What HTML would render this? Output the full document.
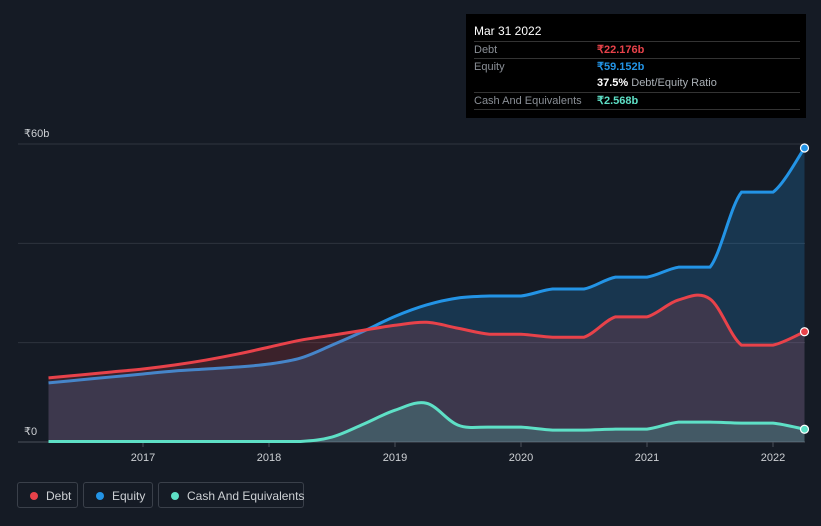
<!DOCTYPE html>
<html><head><meta charset="utf-8"><style>
body{margin:0;background:#151b25;font-family:"Liberation Sans",sans-serif;}
#wrap{position:relative;width:821px;height:526px;overflow:hidden;background:#151b25;}
svg{position:absolute;left:0;top:0;}
.tip{position:absolute;left:466px;top:14px;width:340px;height:104px;background:#000;color:#fff;font-size:11px;}
.tip .row{position:absolute;left:8px;width:326px;border-top:1px solid #333;height:17px;line-height:17px;}
.tip .l{color:#8a8f96;position:absolute;left:0;}
.tip .v{position:absolute;left:123px;font-weight:bold;}
.leg{position:absolute;top:482px;height:26px;border:1px solid #3a404a;border-radius:3px;color:#cdd0d4;font-size:12px;line-height:26px;box-sizing:border-box;padding-left:28px;white-space:nowrap;}
.leg i{position:absolute;left:12px;top:9px;width:8px;height:8px;border-radius:50%;}
</style></head><body>
<div id="wrap">
<svg id="chart" width="821" height="526"></svg>
<div class="tip">
 <div style="position:absolute;left:8px;top:10px;font-size:12px">Mar 31 2022</div>
 <div class="row" style="top:27px"><span class="l">Debt</span><span class="v" style="color:#e8424a">₹22.176b</span></div>
 <div class="row" style="top:44px"><span class="l">Equity</span><span class="v" style="color:#2394e6">₹59.152b</span></div>
 <div class="row" style="top:61px;border-top:none"><span class="v" style="color:#fff">37.5% <span style="color:#aab0b6;font-weight:normal">Debt/Equity Ratio</span></span></div>
 <div class="row" style="top:78px"><span class="l">Cash And Equivalents</span><span class="v" style="color:#5ee0c6">₹2.568b</span></div>
 <div class="row" style="top:95px;height:0"></div>
</div>
<div class="leg" style="left:17px;width:61px"><i style="background:#e8424a"></i>Debt</div>
<div class="leg" style="left:83px;width:70px"><i style="background:#2394e6"></i>Equity</div>
<div class="leg" style="left:158px;width:146px"><i style="background:#5ee0c6"></i>Cash And Equivalents</div>
</div>
<script>
const years=[2016.25,2016.5,2016.75,2017,2017.25,2017.5,2017.75,2018,2018.25,2018.5,2018.75,2019,2019.25,2019.5,2019.75,2020,2020.25,2020.5,2020.75,2021,2021.25,2021.5,2021.75,2022,2022.25];
const debt=[12.9,13.5,14.1,14.7,15.5,16.5,17.7,19.1,20.5,21.5,22.5,23.5,24.1,22.9,21.7,21.7,21.1,21.1,25.2,25.2,28.6,28.8,19.5,19.5,22.2];
const equity=[11.9,12.5,13.1,13.7,14.3,14.7,15.1,15.7,16.9,19.5,22.3,25.3,27.6,29.0,29.4,29.4,30.8,30.8,33.2,33.2,35.2,35.2,50.3,50.3,59.2];
const cash=[0.1,0.1,0.1,0.1,0.1,0.1,0.1,0.1,0.1,1.0,3.6,6.4,7.8,3.4,3.0,3.0,2.4,2.4,2.6,2.6,4.0,4.0,3.8,3.8,2.57];
const yTicks=[0,20,40,60];
const xTicks=[2017,2018,2019,2020,2021,2022];
const svg=document.getElementById('chart');const NS='http://www.w3.org/2000/svg';
const x=v=>143+(v-2017)*126;
const y=v=>442-v*298/60;
function mk(t,a){const e=document.createElementNS(NS,t);for(const k in a)e.setAttribute(k,a[k]);svg.appendChild(e);return e;}
yTicks.forEach(t=>{const l=mk('line',{x1:18,x2:805,y1:y(t),y2:y(t),stroke:t==0?'#4a505a':'#2e343e','stroke-width':1});

});
[[0,'₹0'],[60,'₹60b']].forEach(([v,s])=>{const t=mk('text',{x:24,y:y(v)-7,fill:'#cdd0d4','font-size':11});t.textContent=s;

});
xTicks.forEach(v=>{mk('line',{x1:x(v),x2:x(v),y1:442,y2:447,stroke:'#4a505a'});const t=mk('text',{x:x(v),y:461,fill:'#cdd0d4','font-size':11,'text-anchor':'middle'});t.textContent=v;

});
function path(arr){const p=years.map((yr,i)=>[x(yr),y(arr[i])]);let d='M'+p[0][0]+','+p[0][1];
for(let i=0;i<p.length-1;i++){const p0=p[i-1]||p[i],p1=p[i],p2=p[i+1],p3=p[i+2]||p2;const t=0.17;
let c1y=p1[1]+(p2[1]-p0[1])*t,c2y=p2[1]-(p3[1]-p1[1])*t;
if(p1[1]==p2[1]){c1y=p1[1];c2y=p2[1];}
d+=' C'+(p1[0]+(p2[0]-p0[0])*t)+','+c1y+' '+(p2[0]-(p3[0]-p1[0])*t)+','+c2y+' '+p2[0]+','+p2[1];}return d;}
const base=' L'+x(years[years.length-1])+','+y(0)+' L'+x(years[0])+','+y(0)+' Z';
[['equity',equity,'#2394e6','rgba(35,148,230,0.22)'],['debt',debt,'#e8424a','rgba(232,66,74,0.18)'],['cash',cash,'#5ee0c6','rgba(94,224,198,0.2)']].forEach(([n,a,c,f])=>{
const ar=mk('path',{d:path(a)+base,fill:f});


const ln=mk('path',{d:path(a),fill:'none',stroke:c,'stroke-width':3});


const dt=mk('circle',{cx:x(years[years.length-1]),cy:y(a[a.length-1]),r:4,fill:c,stroke:'#fff','stroke-width':1.2});


});
</script>
</body></html>
